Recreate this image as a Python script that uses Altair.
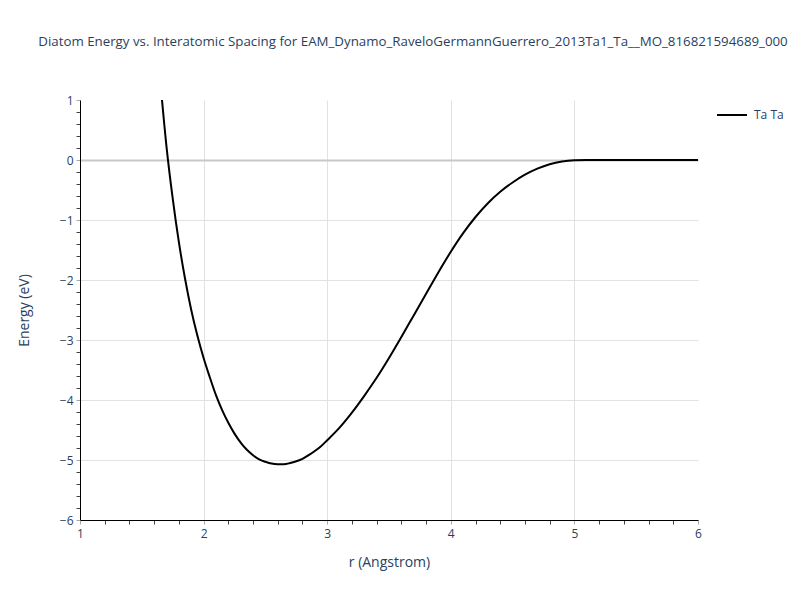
import altair as alt
import pandas as pd

r_values = [1.6, 1.65, 1.7, 1.75, 1.8, 1.85, 1.9, 1.95, 2.0, 2.05, 2.1, 2.15, 2.2,
            2.25, 2.3, 2.35, 2.4, 2.45, 2.5, 2.55, 2.6, 2.65, 2.7, 2.75, 2.8, 2.85,
            2.9, 2.95, 3.0, 3.1, 3.2, 3.3, 3.4, 3.5, 3.6, 3.7, 3.8, 3.9, 4.0, 4.1,
            4.2, 4.3, 4.4, 4.5, 4.6, 4.7, 4.8, 4.9, 5.0, 5.1, 5.2, 5.3, 5.4, 5.5,
            5.6, 5.7, 5.8, 5.9, 6.0]
energy_values = [2.45, 1.3, 0.22, -0.64, -1.37, -1.98, -2.5, -2.93, -3.3, -3.62,
                 -3.92, -4.17, -4.38, -4.56, -4.71, -4.83, -4.92, -4.99, -5.03, -5.06,
                 -5.07, -5.07, -5.05, -5.02, -4.98, -4.92, -4.85, -4.77, -4.67, -4.46,
                 -4.21, -3.93, -3.63, -3.3, -2.95, -2.59, -2.23, -1.87, -1.53, -1.22,
                 -0.95, -0.72, -0.53, -0.375, -0.245, -0.145, -0.07, -0.025, -0.005, 0.0,
                 0.0, 0.0, 0.0, 0.0, 0.0, 0.0, 0.0, 0.0, 0.0]
series_name = "Ta Ta"
x_ticks = [round(1 + 0.2 * i, 1) for i in range(26)]
y_ticks = [round(-6 + 0.2 * i, 1) for i in range(36)]

df = pd.DataFrame({"r": r_values, "E": energy_values, "pair": series_name})

txt = "#2a3f5f"
font = "Open Sans"
is_major = "abs(datum.value - round(datum.value)) < 0.001"
label_expr = f"{is_major} ? format(datum.value, 'd') : ''"

x_axis = alt.Axis(
    values=x_ticks, tickCount=200, labelOverlap=False, labelExpr=label_expr,
    labelFlush=False,
    title="r (Angstrom)", titleFont=font, titleFontSize=14, titleColor=txt,
    titleFontWeight="normal", titlePadding=16,
    labelFont=font, labelFontSize=12, labelColor=txt, labelPadding=4,
    domainColor="black", domainWidth=1, tickSize=4,
    tickColor={"condition": {"test": is_major, "value": "#a8a8a8"}, "value": "#444444"},
    grid=True, gridColor="#e2e2e2", gridWidth=1,
    gridOpacity={"condition": {"test": f"{is_major} && datum.value > 1.5 && datum.value < 5.5", "value": 1}, "value": 0},
)
y_axis = alt.Axis(
    values=y_ticks, tickCount=200, labelOverlap=False, labelExpr=label_expr,
    labelFlush=False,
    title="Energy (eV)", titleFont=font, titleFontSize=14, titleColor=txt,
    titleFontWeight="normal", titlePadding=28,
    labelFont=font, labelFontSize=12, labelColor=txt, labelPadding=3,
    domainColor="black", domainWidth=1, tickSize=4,
    tickColor={"condition": {"test": is_major, "value": "#a8a8a8"}, "value": "#444444"},
    grid=True,
    gridColor={"condition": {"test": "abs(datum.value) < 0.001", "value": "#c8c8c8"}, "value": "#e2e2e2"},
    gridWidth={"condition": {"test": "abs(datum.value) < 0.001", "value": 2}, "value": 1},
    gridOpacity={"condition": {"test": f"{is_major} && datum.value > -5.5 && datum.value < 0.5", "value": 1}, "value": 0},
)

chart = alt.Chart(df).mark_line(strokeWidth=2, clip=True, interpolate="monotone").encode(
    x=alt.X("r:Q", scale=alt.Scale(domain=[1, 6], nice=False, zero=False), axis=x_axis),
    y=alt.Y("E:Q", scale=alt.Scale(domain=[-6, 1], nice=False, zero=False), axis=y_axis),
    color=alt.Color("pair:N", scale=alt.Scale(range=["black"]),
                    legend=alt.Legend(title=None, orient="none", legendX=636, legendY=-1,
                                      symbolType="stroke", symbolStrokeWidth=2,
                                      symbolSize=900, labelFont=font, labelFontSize=12,
                                      labelColor=txt, labelOffset=6)),
    order="r:Q",
).properties(
    width=618, height=420,
    title=alt.TitleParams(
        "Diatom Energy vs. Interatomic Spacing for EAM_Dynamo_RaveloGermannGuerrero_2013Ta1_Ta__MO_816821594689_000",
        font=font, fontSize=13.3, color=txt, fontWeight="normal", anchor="middle",
        offset=46, dx=24),
    autosize=alt.AutoSizeParams(type="none"),
    padding={"left": 72, "top": 92, "right": 94, "bottom": 72},
).configure_view(stroke=None)

chart.save("out.html", embed_options={"renderer": "svg", "actions": False})
